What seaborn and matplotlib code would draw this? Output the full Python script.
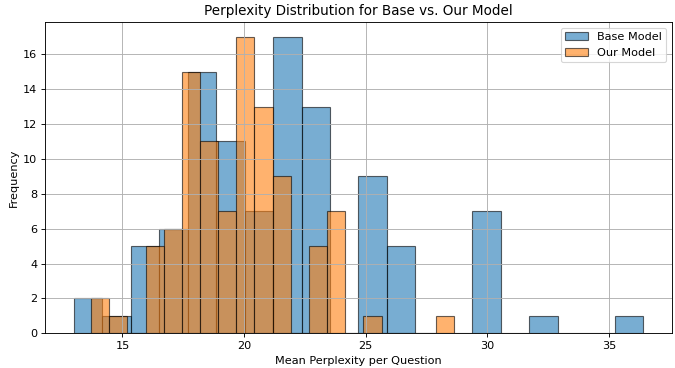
import numpy as np
import pandas as pd
import matplotlib
matplotlib.use('Agg')
import matplotlib.pyplot as plt
import seaborn as sns

# Histogram counts (20 bins each)
base_counts = [2, 1, 5, 6, 15, 11, 7, 17, 13, 0, 9, 5, 0, 0, 7, 0, 1, 0, 0, 1]
base_range = (13.0, 36.4)
ours_counts = [2, 1, 0, 5, 6, 15, 11, 7, 17, 13, 9, 0, 5, 7, 0, 1, 0, 0, 0, 1]
ours_range = (13.71, 28.63)
n_bins = 20

def to_frame(counts, rng):
    edges = np.linspace(rng[0], rng[1], n_bins + 1)
    centers = (edges[:-1] + edges[1:]) / 2
    return pd.DataFrame({'ppl': centers, 'n': counts})

df_base = to_frame(base_counts, base_range)
df_ours = to_frame(ours_counts, ours_range)

edge = (0, 0, 0, 0.6)
dpi = 81
fig, ax = plt.subplots(figsize=(675 / dpi, 368 / dpi), dpi=dpi)
sns.histplot(data=df_base, x='ppl', weights='n', bins=n_bins, binrange=base_range,
             color='tab:blue', alpha=0.6, edgecolor=edge, linewidth=1,
             label='Base Model', ax=ax)
sns.histplot(data=df_ours, x='ppl', weights='n', bins=n_bins, binrange=ours_range,
             color='tab:orange', alpha=0.6, edgecolor=edge, linewidth=1,
             label='Our Model', ax=ax)

ax.set_title('Perplexity Distribution for Base vs. Our Model')
ax.set_xlabel('Mean Perplexity per Question')
ax.set_ylabel('Frequency')
ax.margins(x=0.05)
ax.set_ylim(0, 17.85)
ax.legend(loc='upper right')
ax.grid(True)

fig.subplots_adjust(left=45.3 / 675, right=671.7 / 675,
                    bottom=(368 - 333.3) / 368, top=(368 - 22) / 368)
plt.savefig('out.png')
